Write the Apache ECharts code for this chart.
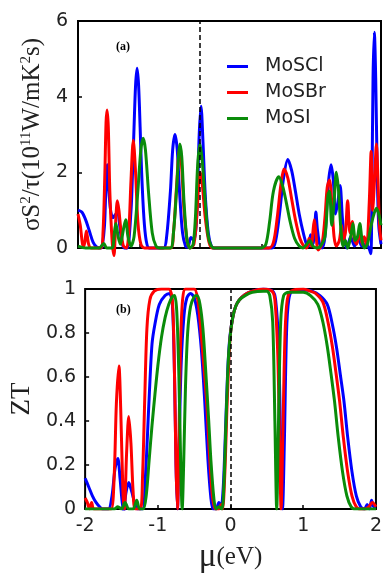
<!DOCTYPE html>
<html>
<head>
<meta charset="utf-8">
<script src="https://cdn.jsdelivr.net/npm/echarts@6/dist/echarts.min.js"></script>
<style>
html, body { margin: 0; padding: 0; background: #fff; }
#main { width: 385px; height: 575px; }
</style>
</head>
<body>
<div id="main"></div>
<script>
var names = ['MoSCl', 'MoSBr', 'MoSI'];
var colors = ['#0000ff', '#ff0000', '#0a8c0a'];

// (a) power factor sigma*S^2/tau
var clPfMu = [-2.00,-1.95,-1.90,-1.85,-1.80,-1.75,-1.70,-1.68,-1.65,-1.63,
	-1.615,-1.60,-1.57,-1.54,-1.50,-1.475,-1.45,-1.42,-1.39,-1.35,
	-1.30,-1.28,-1.26,-1.24,-1.22,-1.20,-1.18,-1.16,-1.13,-1.10,
	-1.06,-0.87,
	-0.83,-0.78,-0.75,-0.72,-0.69,-0.66,-0.62,-0.58,-0.55,-0.51,
	-0.47,-0.44,-0.42,-0.40,-0.376,-0.35,-0.32,-0.28,-0.24,-0.20,
	0.56,0.61,0.66,0.71,0.77,0.82,0.87,0.92,0.98,1.02,
	1.045,1.07,1.10,1.125,1.14,1.16,1.19,1.22,1.26,1.30,
	1.34,1.37,1.40,1.43,1.46,1.49,1.52,1.55,1.60,1.65,
	1.70,1.75,1.80,1.84,1.865,1.88,1.895,1.912,1.93,1.95,
	1.97,2.00];
var clPf = [1.00,0.95,0.75,0.45,0.15,0.02,0.00,0.05,0.60,1.70,
	2.20,1.70,1.00,0.80,0.90,0.93,0.60,0.15,0.00,0.00,
	1.00,2.00,3.20,4.30,4.75,4.30,3.20,2.00,0.80,0.20,
	0.00,0.00,
	0.30,1.50,2.60,3.00,2.60,1.50,0.40,0.05,0.02,0.28,
	0.20,0.60,1.60,3.00,3.75,2.80,1.40,0.40,0.05,0.00,
	0.00,0.20,0.90,1.80,2.34,2.05,1.50,0.90,0.35,0.08,
	0.05,0.35,0.10,0.50,0.95,0.50,0.10,0.00,0.30,1.60,
	2.20,1.80,0.90,1.20,1.65,0.80,0.20,0.00,0.30,0.05,
	0.25,0.05,0.10,0.00,-0.15,1.50,4.50,5.70,4.50,2.00,
	0.60,0.10];

var brPfMu = [-2.00,-1.97,-1.94,-1.92,-1.89,-1.86,-1.83,-1.70,-1.67,-1.645,
	-1.63,-1.617,-1.60,-1.58,-1.55,-1.525,-1.50,-1.48,-1.46,-1.43,
	-1.40,-1.36,-1.33,-1.30,-1.27,-1.24,-1.21,-1.17,-1.12,-0.78,
	-0.74,-0.70,-0.67,-0.655,-0.63,-0.60,-0.56,-0.52,-0.47,-0.43,
	-0.40,-0.385,-0.36,-0.32,-0.27,-0.22,0.52,0.58,0.63,0.68,
	0.72,0.77,0.82,0.87,0.93,0.98,1.02,1.05,1.08,1.10,
	1.12,1.14,1.17,1.22,1.26,1.29,1.32,1.35,1.38,1.41,
	1.45,1.48,1.50,1.53,1.56,1.59,1.62,1.65,1.68,1.72,
	1.75,1.78,1.81,1.845,1.87,1.89,1.915,1.94,1.96,1.98,
	2.00];
var brPf = [0.90,0.60,0.10,0.05,0.45,0.10,0.00,0.00,0.40,2.00,
	3.30,3.65,3.20,1.50,0.20,-0.20,0.80,1.25,1.00,0.40,
	0.05,0.00,0.40,1.80,2.85,2.00,0.70,0.10,0.00,0.00,
	0.40,1.60,2.50,2.60,2.10,1.00,0.20,0.00,0.10,0.90,
	1.90,2.00,1.70,0.80,0.15,0.00,0.00,0.15,0.80,1.70,
	2.09,1.85,1.30,0.75,0.25,0.05,0.00,0.25,0.05,0.40,
	0.75,0.40,-0.05,0.10,0.80,1.60,1.80,1.20,0.30,0.05,
	0.20,0.60,0.20,0.40,1.25,0.40,0.70,0.20,0.10,0.50,
	0.10,0.30,0.05,1.20,2.55,1.00,1.80,2.75,1.80,0.60,
	0.20];

var iPfMu = [-2.00,-1.90,-1.72,-1.66,-1.62,-1.55,-1.52,-1.50,-1.47,-1.44,
	-1.40,-1.37,-1.34,-1.30,-1.26,-1.21,-1.17,-1.14,-1.11,-1.07,
	-1.02,-0.97,-0.92,-0.78,-0.74,-0.70,-0.67,-0.655,-0.63,-0.60,
	-0.56,-0.52,-0.48,-0.45,-0.42,-0.39,-0.36,-0.32,-0.28,-0.24,
	-0.20,0.42,0.48,0.53,0.58,0.65,0.70,0.75,0.80,0.86,
	0.92,0.97,1.02,1.06,1.10,1.15,1.20,1.26,1.30,1.32,
	1.35,1.38,1.41,1.44,1.47,1.50,1.53,1.56,1.60,1.63,
	1.66,1.69,1.72,1.75,1.78,1.82,1.86,1.90,1.94,1.97,
	2.00];
var iPf = [0.05,0.00,0.00,0.12,0.00,0.00,0.40,0.65,0.30,0.10,
	0.50,0.75,0.30,0.05,0.30,1.50,2.60,2.90,2.60,1.50,
	0.40,0.05,0.00,0.00,0.40,1.50,2.50,2.75,2.40,1.20,
	0.20,0.00,0.10,0.80,2.20,2.75,2.30,1.20,0.30,0.05,
	0.00,0.00,0.10,0.70,1.50,1.88,1.65,1.20,0.70,0.25,
	0.05,0.00,0.10,0.20,0.05,0.00,0.05,0.30,1.40,1.50,
	0.60,1.20,2.00,1.50,0.50,0.05,0.20,0.00,0.30,0.65,
	0.20,0.30,0.65,0.20,0.00,0.10,0.50,0.85,1.05,0.90,
	0.60];

// (b) ZT
var clZtMu = [-2.00,-1.95,-1.90,-1.85,-1.80,-1.76,-1.68,-1.63,-1.59,-1.55,
	-1.52,-1.49,-1.47,-1.44,-1.40,-1.36,-1.32,-1.28,-1.21,-1.17,
	-1.12,-1.08,-1.04,-0.98,-0.90,-0.84,-0.80,-0.77,-0.75,-0.73,
	-0.71,-0.68,-0.64,-0.60,-0.55,-0.50,-0.45,-0.40,-0.355,-0.31,
	-0.27,-0.24,-0.20,-0.16,-0.13,-0.10,-0.07,-0.04,-0.01,0.03,
	0.07,0.12,0.20,0.30,0.45,0.58,0.62,0.66,0.69,0.715,
	0.74,0.77,0.80,0.85,1.00,1.12,1.23,1.33,1.40,1.46,
	1.51,1.56,1.61,1.67,1.73,1.79,1.84,1.88,1.91,1.94,
	1.97,2.00];
var clZt = [0.14,0.10,0.06,0.03,0.01,0.00,0.00,0.06,0.18,0.23,
	0.14,0.03,-0.01,0.07,0.12,0.08,0.03,0.00,0.00,0.15,
	0.50,0.75,0.84,0.93,0.97,0.98,0.93,0.60,0.20,0.00,
	0.25,0.65,0.88,0.96,0.98,0.96,0.88,0.72,0.49,0.22,
	0.05,0.00,0.00,0.03,0.01,0.10,0.35,0.62,0.78,0.87,
	0.92,0.95,0.975,0.99,1.00,0.99,0.95,0.75,0.30,0.00,
	0.30,0.80,0.95,0.99,0.995,0.99,0.97,0.93,0.84,0.73,
	0.61,0.49,0.33,0.17,0.06,0.01,0.00,0.02,0.00,0.04,
	0.01,0.01];

var brZtMu = [-2.00,-1.97,-1.94,-1.91,-1.88,-1.70,-1.64,-1.60,-1.57,-1.535,
	-1.51,-1.48,-1.46,-1.43,-1.40,-1.37,-1.34,-1.31,-1.24,-1.21,
	-1.18,-1.15,-1.11,-1.05,-0.95,-0.85,-0.80,-0.77,-0.75,-0.73,
	-0.71,-0.69,-0.66,-0.62,-0.50,-0.45,-0.40,-0.33,-0.29,-0.25,
	-0.21,-0.16,-0.13,-0.11,-0.08,-0.05,-0.02,0.00,0.03,0.07,
	0.12,0.20,0.30,0.45,0.57,0.61,0.65,0.675,0.695,0.72,
	0.75,0.78,0.83,1.00,1.10,1.17,1.27,1.34,1.40,1.45,
	1.50,1.55,1.61,1.67,1.73,1.79,1.85,1.90,1.95,2.00];
var brZt = [0.05,0.03,0.00,0.03,0.00,0.00,0.00,0.15,0.48,0.65,
	0.45,0.08,0.00,0.25,0.42,0.30,0.08,0.00,0.00,0.15,
	0.50,0.82,0.95,0.99,1.00,1.00,0.95,0.60,0.20,0.00,
	0.30,0.72,0.95,1.00,1.00,0.95,0.78,0.49,0.25,0.06,
	0.00,0.00,0.02,0.00,0.15,0.45,0.70,0.80,0.87,0.92,
	0.95,0.975,0.99,1.00,0.99,0.95,0.70,0.30,0.00,0.35,
	0.80,0.95,0.99,1.00,0.99,0.98,0.94,0.85,0.74,0.62,
	0.49,0.33,0.17,0.06,0.01,0.00,0.00,0.01,0.03,0.01];

var iZtMu = [-2.00,-1.60,-1.55,-1.50,-1.45,-1.40,-1.34,-1.29,-1.25,-1.20,
	-1.16,-1.12,-1.08,-1.04,-1.00,-0.95,-0.90,-0.85,-0.80,-0.77,
	-0.74,-0.71,-0.685,-0.665,-0.645,-0.62,-0.59,-0.55,-0.50,-0.46,
	-0.42,-0.38,-0.34,-0.30,-0.27,-0.23,-0.20,-0.16,-0.12,-0.09,
	-0.06,-0.03,0.00,0.03,0.07,0.12,0.20,0.30,0.45,0.50,
	0.54,0.58,0.61,0.635,0.66,0.69,0.73,0.80,1.00,1.10,
	1.20,1.27,1.33,1.38,1.43,1.48,1.54,1.60,1.66,1.72,
	2.00];
var iZt = [0.00,0.00,0.01,0.00,0.03,0.00,0.00,0.04,0.00,0.00,
	0.06,0.22,0.38,0.52,0.65,0.78,0.87,0.93,0.965,0.97,
	0.90,0.60,0.20,0.00,0.20,0.55,0.80,0.92,0.965,0.97,
	0.93,0.82,0.62,0.40,0.22,0.05,0.00,0.01,0.00,0.12,
	0.42,0.68,0.80,0.87,0.92,0.95,0.97,0.985,0.99,0.99,
	0.97,0.85,0.40,0.00,0.40,0.85,0.97,0.985,0.985,0.97,
	0.93,0.85,0.74,0.62,0.49,0.33,0.17,0.06,0.01,0.00,
	0.00];

var fermiA = -0.385;
var fermiB = 0;

function pairs(xs, ys) {
	return xs.map(function (x, i) { return [x, ys[i]]; });
}

var sans = 'DejaVu Sans';
var serif = 'Liberation Serif';

var myChart = echarts.init(document.getElementById('main'));

var dash = {
	silent: true,
	symbol: 'none',
	label: { show: false },
	lineStyle: { color: '#000', type: [5, 3], width: 1.5 }
};

function line(name, idx, grid, data, markX) {
	var s = {
		name: name,
		type: 'line',
		xAxisIndex: grid,
		yAxisIndex: grid,
		data: data,
		symbol: 'none',
		smooth: 0.3,
		clip: grid == 1,
		lineStyle: { color: colors[idx], width: 3 },
		itemStyle: { color: colors[idx] }
	};
	if (markX !== undefined) {
		s.markLine = Object.assign({ data: [{ xAxis: markX }] }, dash);
	}
	return s;
}

var tick = { inside: true, length: 4, lineStyle: { color: '#000', width: 1.5 } };

var option = {
	animation: false,
	title: [
		{ text: '(a)', left: 111, top: 36, textStyle: { fontFamily: serif, fontSize: 12, fontWeight: 'bold', color: '#000' } },
		{ text: '(b)', left: 111, top: 299, textStyle: { fontFamily: serif, fontSize: 12, fontWeight: 'bold', color: '#000' } }
	],
	legend: {
		data: names,
		orient: 'vertical',
		left: 222,
		top: 52,
		icon: 'rect',
		itemWidth: 21,
		itemHeight: 3,
		itemGap: 7,
		textStyle: { fontFamily: sans, fontSize: 19, color: '#222', lineHeight: 18, padding: [0, 0, 0, 12] }
	},
	grid: [
		{ left: 78, right: 4, top: 21, height: 227, show: true, borderColor: '#000', borderWidth: 2 },
		{ left: 77, right: 4, top: 289, height: 226, show: true, borderColor: '#000', borderWidth: 2 }
	],
	xAxis: [{
		type: 'value', gridIndex: 0, min: -2, max: 2,
		axisLine: { show: false, onZero: false },
		axisLabel: { show: false },
		axisTick: Object.assign({ customValues: [-1.18, 0.42] }, tick),
		splitLine: { show: false }
	}, {
		type: 'value', gridIndex: 1, min: -2, max: 2, interval: 1,
		axisLine: { show: false, onZero: false },
		axisLabel: { fontFamily: sans, fontSize: 19, color: '#222', margin: 8 },
		axisTick: tick,
		splitLine: { show: false },
		name: '{mu|μ}{ev|(eV)}',
		nameLocation: 'middle',
		nameGap: 32,
		nameTextStyle: {
			rich: {
				mu: { fontFamily: serif, fontSize: 33, color: '#222' },
				ev: { fontFamily: serif, fontSize: 25, color: '#222' }
			}
		}
	}],
	yAxis: [{
		type: 'value', gridIndex: 0, min: 0, max: 6, interval: 2,
		axisLine: { show: false, onZero: false },
		axisLabel: { fontFamily: sans, fontSize: 19, color: '#222', margin: 10 },
		axisTick: tick,
		splitLine: { show: false },
		name: '{t|σS}{s|2}{t|/τ(10}{s|11}{t|W/mK}{s|2}{t|s)}',
		nameLocation: 'middle',
		nameGap: 30,
		nameTextStyle: {
			rich: {
				t: { fontFamily: serif, fontSize: 25, color: '#222', lineHeight: 28 },
				s: { fontFamily: serif, fontSize: 15, color: '#222', lineHeight: 15, verticalAlign: 'top' }
			}
		}
	}, {
		type: 'value', gridIndex: 1, min: 0, max: 1, interval: 0.2,
		axisLine: { show: false, onZero: false },
		axisLabel: { fontFamily: sans, fontSize: 19, color: '#222', margin: 9 },
		axisTick: tick,
		splitLine: { show: false },
		name: 'ZT',
		nameLocation: 'middle',
		nameGap: 50,
		nameTextStyle: { fontFamily: serif, fontSize: 27, color: '#222' }
	}],
	series: [
		line(names[0], 0, 0, pairs(clPfMu, clPf), fermiA),
		line(names[1], 1, 0, pairs(brPfMu, brPf)),
		line(names[2], 2, 0, pairs(iPfMu, iPf)),
		line(names[0], 0, 1, pairs(clZtMu, clZt), fermiB),
		line(names[1], 1, 1, pairs(brZtMu, brZt)),
		line(names[2], 2, 1, pairs(iZtMu, iZt))
	]
};
myChart.setOption(option);
</script>
</body>
</html>
